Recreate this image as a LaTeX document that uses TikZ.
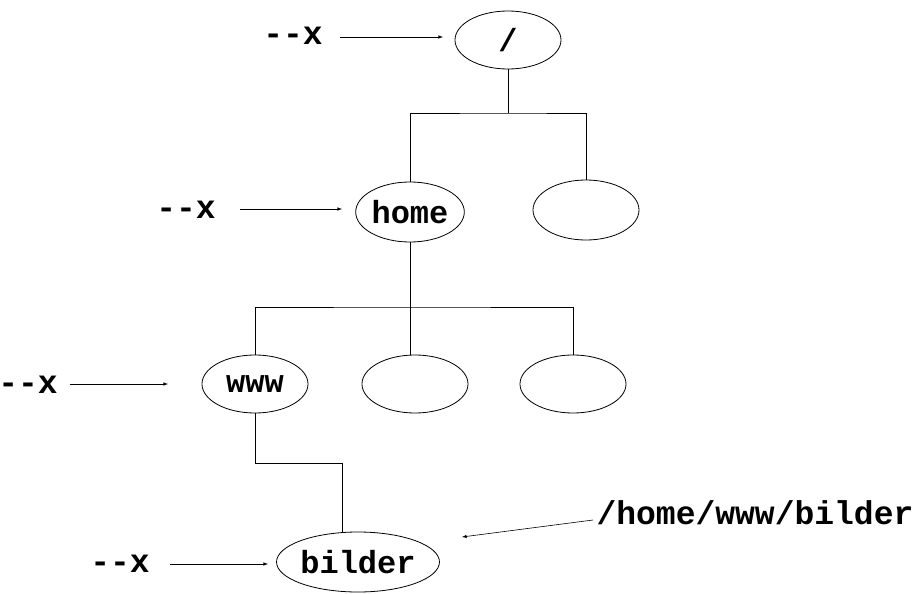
\documentclass[tikz,border=0pt]{standalone}
\usepackage{fontspec}
\newfontfamily\cour{Liberation Mono}
\usetikzlibrary{shapes.geometric}
\begin{document}
\begin{tikzpicture}[x=1pt,y=-1pt,
  el/.style={draw,ellipse,line width=0.8pt,minimum width=106pt,minimum height=58pt,inner sep=0pt,font=\cour\fontsize{32}{34}\selectfont\bfseries},
  lab/.style={font=\cour\fontsize{33}{35}\selectfont\bfseries,inner sep=0pt},
  ln/.style={line width=0.8pt},
  ar/.style={line width=0.6pt,-latex}]
\useasboundingbox (0,0) rectangle (919,594);
\node[el] (r) at (508,40) {/};
\node[el,minimum height=60pt] (h) at (410,212) {home};
\node[el,minimum height=60pt] (h2) at (586,210) {};
\node[el] (w) at (255,384) {www};
\node[el] (w2) at (415,384) {};
\node[el] (w3) at (573,384) {};
\node[el,minimum width=148pt,minimum height=60pt] (b) at (358,562) {bilder};
\coordinate (c1) at (508,113);
\coordinate (c2) at (410,307);
\coordinate (c5) at (410,355);
\draw[ln] (r.south) -- (c1);
\draw[ln] (h.north) |- (c1) -| (h2.north);
\draw[ln] (h.south) -- (c2);
\draw[ln] (w.north) |- (c2) -| (w3.north);
\draw[ln] (c2) -- (c5);
\coordinate (c3) at (255,463);
\coordinate (c4) at (342,463);
\draw[ln] (w.south) -- (c3) -- (c4) -- (342,533);
\node[lab] (l1) at (293,36) {-{}-x};
\node[lab] (l2) at (186,210) {-{}-x};
\node[lab] (l3) at (28,385) {-{}-x};
\node[lab] (l4) at (120,564) {-{}-x};
\node[lab] (p) at (755,513) {/home/www/bilder};
\coordinate (a1) at (340,37); \coordinate (b1) at (443,37);
\coordinate (a2) at (240,209); \coordinate (b2) at (342,209);
\coordinate (a3) at (70,384); \coordinate (b3) at (168,384);
\coordinate (a4) at (170,564); \coordinate (b4) at (268,564);
\draw[ar] (a1) -- (b1);
\draw[ar] (a2) -- (b2);
\draw[ar] (a3) -- (b3);
\draw[ar] (a4) -- (b4);
\coordinate (a5) at (593,520); \coordinate (b5) at (462,537);
\draw[ar] (a5) -- (b5);
\end{tikzpicture}
\end{document}
